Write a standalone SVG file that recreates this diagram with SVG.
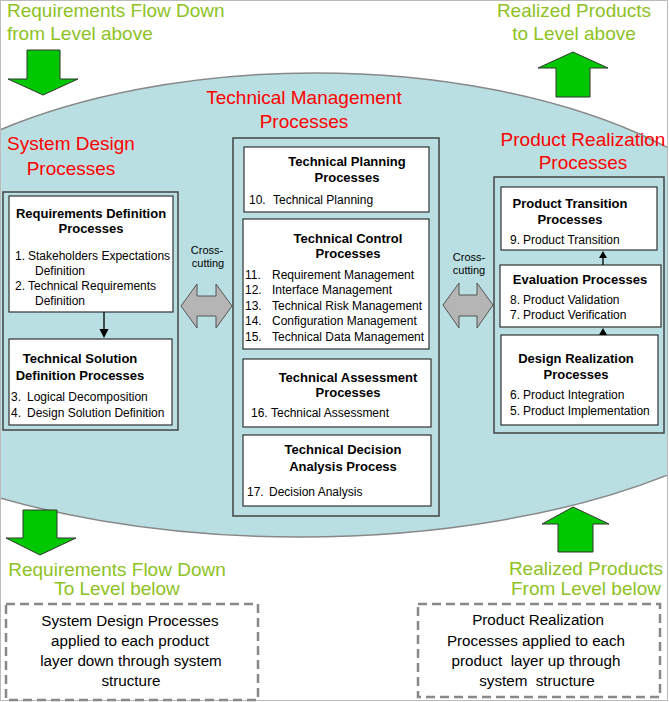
<svg xmlns="http://www.w3.org/2000/svg" width="669" height="702" viewBox="0 0 669 702">
<style>
text{font-family:"Liberation Sans",Arial,sans-serif;fill:#000}
.g{font-size:19px;fill:#8DC21F}
.r{font-size:19px;fill:#FF0000}
.t{font-size:13px;font-weight:bold;text-anchor:middle}
.b{font-size:12px}
.c{font-size:11px;text-anchor:middle}
.n{font-size:15.2px;text-anchor:middle}
.outer{fill:#B9DFE3;stroke:#444;stroke-width:1.5}
.inner{fill:#fff;stroke:#333;stroke-width:1.2}
.garrow{fill:#00C800;stroke:#333;stroke-width:1}
.xarrow{fill:#B5B5B5;stroke:#555;stroke-width:1}
.dash{fill:#fff;stroke:#888;stroke-width:2.5;stroke-dasharray:9 5}
</style>
<defs>
<clipPath id="frameclip"><rect x="0" y="0" width="667" height="701"/></clipPath>
</defs>
<rect x="0" y="0" width="669" height="702" fill="#fff"/>
<path d="M -165 305 A 480 232 0 0 1 795 305 L 840 305 A 540 232 0 0 1 -240 305 Z" fill="#B9DFE3" stroke="#888" stroke-width="1.5" clip-path="url(#frameclip)"/>
<rect x="0.5" y="0.5" width="667" height="700" fill="none" stroke="#bbb" stroke-width="1"/>

<g id="flow-labels">
<text class="g" x="7" y="17">Requirements Flow Down</text>
<text class="g" x="7" y="40">from Level above</text>
<text class="g" x="574" y="17" text-anchor="middle">Realized Products</text>
<text class="g" x="574" y="40" text-anchor="middle">to Level above</text>
<text class="g" x="117" y="576" text-anchor="middle">Requirements Flow Down</text>
<text class="g" x="117" y="595" text-anchor="middle">To Level below</text>
<text class="g" x="586" y="575" text-anchor="middle">Realized Products</text>
<text class="g" x="586" y="595" text-anchor="middle">From Level below</text>
</g>

<g id="green-arrows">
<polygon class="garrow" points="27,50 60,50 60,79 78,79 43,95 8,79 27,79"/>
<polygon class="garrow" points="573,52 608,68 590,68 590,97 556,97 556,68 538,68"/>
<polygon class="garrow" points="23,510 57,510 57,538 76,538 40,555 6,538 23,538"/>
<polygon class="garrow" points="573,507 609,524 593,524 593,552 558,552 558,524 542,524"/>
</g>

<g id="titles">
<text class="r" x="304" y="104" text-anchor="middle">Technical Management</text>
<text class="r" x="304" y="128" text-anchor="middle">Processes</text>
<text class="r" x="71" y="150" text-anchor="middle">System Design</text>
<text class="r" x="71" y="175" text-anchor="middle">Processes</text>
<text class="r" x="583" y="146" text-anchor="middle">Product Realization</text>
<text class="r" x="583" y="169" text-anchor="middle">Processes</text>
</g>

<g id="system-design">
<rect class="outer" x="3" y="192" width="175" height="238"/>
</g>
<g id="requirements-definition">
<rect class="inner" x="9" y="196" width="164" height="116"/>
<text class="t" x="91" y="218">Requirements Definition</text>
<text class="t" x="91" y="233">Processes</text>
<text class="b" y="260"><tspan x="15">1.</tspan><tspan x="28">Stakeholders Expectations</tspan></text>
<text class="b" x="35" y="275">Definition</text>
<text class="b" y="290"><tspan x="15">2.</tspan><tspan x="28">Technical Requirements</tspan></text>
<text class="b" x="35" y="305">Definition</text>
</g>
<g id="technical-solution">
<rect class="inner" x="9" y="339" width="163" height="86"/>
<text class="t" x="80" y="363">Technical Solution</text>
<text class="t" x="80" y="380">Definition Processes</text>
<text class="b" y="401"><tspan x="11">3.</tspan><tspan x="27">Logical Decomposition</tspan></text>
<text class="b" y="417"><tspan x="11">4.</tspan><tspan x="27">Design Solution Definition</tspan></text>
</g>

<g id="technical-management">
<rect class="outer" x="233" y="138" width="206" height="378"/>
</g>
<g id="technical-planning">
<rect class="inner" x="244" y="147" width="185" height="65"/>
<text class="t" x="347" y="166">Technical Planning</text>
<text class="t" x="347" y="182">Processes</text>
<text class="b" y="204"><tspan x="249">10.</tspan><tspan x="273">Technical Planning</tspan></text>
</g>
<g id="technical-control">
<rect class="inner" x="243" y="219" width="186" height="130"/>
<text class="t" x="348" y="243">Technical Control</text>
<text class="t" x="348" y="258">Processes</text>
<text class="b" y="279"><tspan x="245">11.</tspan><tspan x="272">Requirement Management</tspan></text>
<text class="b" y="294"><tspan x="245">12.</tspan><tspan x="272">Interface Management</tspan></text>
<text class="b" y="310"><tspan x="245">13.</tspan><tspan x="272">Technical Risk Management</tspan></text>
<text class="b" y="325"><tspan x="245">14.</tspan><tspan x="272">Configuration Management</tspan></text>
<text class="b" y="341"><tspan x="245">15.</tspan><tspan x="272">Technical Data Management</tspan></text>
</g>
<g id="technical-assessment">
<rect class="inner" x="243" y="359" width="188" height="68"/>
<text class="t" x="348" y="382">Technical Assessment</text>
<text class="t" x="348" y="397">Processes</text>
<text class="b" y="417"><tspan x="251">16.</tspan><tspan x="271">Technical Assessment</tspan></text>
</g>
<g id="technical-decision">
<rect class="inner" x="243" y="435" width="188" height="71"/>
<text class="t" x="343" y="454">Technical Decision</text>
<text class="t" x="343" y="471">Analysis Process</text>
<text class="b" y="496"><tspan x="247">17.</tspan><tspan x="269">Decision Analysis</tspan></text>
</g>

<g id="product-realization">
<rect class="outer" x="494" y="177" width="170" height="256"/>
</g>
<g id="product-transition">
<rect class="inner" x="501" y="187" width="156" height="63"/>
<text class="t" x="570" y="208">Product Transition</text>
<text class="t" x="570" y="224">Processes</text>
<text class="b" y="244"><tspan x="510">9.</tspan><tspan x="523">Product Transition</tspan></text>
</g>
<g id="evaluation">
<rect class="inner" x="500" y="265" width="161" height="62"/>
<text class="t" x="580" y="284">Evaluation Processes</text>
<text class="b" y="304"><tspan x="510">8.</tspan><tspan x="523">Product Validation</tspan></text>
<text class="b" y="319"><tspan x="510">7.</tspan><tspan x="523">Product Verification</tspan></text>
</g>
<g id="design-realization">
<rect class="inner" x="501" y="335" width="157" height="90"/>
<text class="t" x="576" y="363">Design Realization</text>
<text class="t" x="576" y="379">Processes</text>
<text class="b" y="399"><tspan x="510">6.</tspan><tspan x="523">Product Integration</tspan></text>
<text class="b" y="415"><tspan x="510">5.</tspan><tspan x="523">Product Implementation</tspan></text>
</g>

<g id="connectors">
<line x1="104" y1="312" x2="104" y2="330" stroke="#000" stroke-width="1.3"/>
<polygon points="99.5,329 108.5,329 104,338" fill="#000"/>
<line x1="603" y1="265" x2="603" y2="257" stroke="#000" stroke-width="1.3"/>
<polygon points="599,258 607,258 603,251" fill="#000"/>
<line x1="603" y1="335" x2="603" y2="334" stroke="#000" stroke-width="1.3"/>
<polygon points="599,335 607,335 603,328" fill="#000"/>
<polygon class="xarrow" points="181,306 197,284 197,296 216,296 216,284 232,306 216,328 216,316 197,316 197,328"/>
<polygon class="xarrow" points="443,305 459,283 459,295 477,295 477,283 493,305 477,328 477,316 459,316 459,328"/>
<text class="c" x="207" y="254">Cross-</text>
<text class="c" x="208" y="267">cutting</text>
<text class="c" x="469" y="261">Cross-</text>
<text class="c" x="469" y="274">cutting</text>
</g>

<g id="note-left">
<rect class="dash" x="6" y="604" width="252" height="96"/>
<text class="n" x="130" y="626">System Design Processes</text>
<text class="n" x="130" y="646">applied to each product</text>
<text class="n" x="131" y="666">layer down through system</text>
<text class="n" x="131" y="686">structure</text>
</g>
<g id="note-right">
<rect class="dash" x="418" y="604" width="242" height="93"/>
<text class="n" x="538" y="625">Product Realization</text>
<text class="n" x="536" y="646">Processes applied to each</text>
<text class="n" x="536" y="666" xml:space="preserve">product  layer up through</text>
<text class="n" x="537" y="686" xml:space="preserve">system  structure</text>
</g>
</svg>
